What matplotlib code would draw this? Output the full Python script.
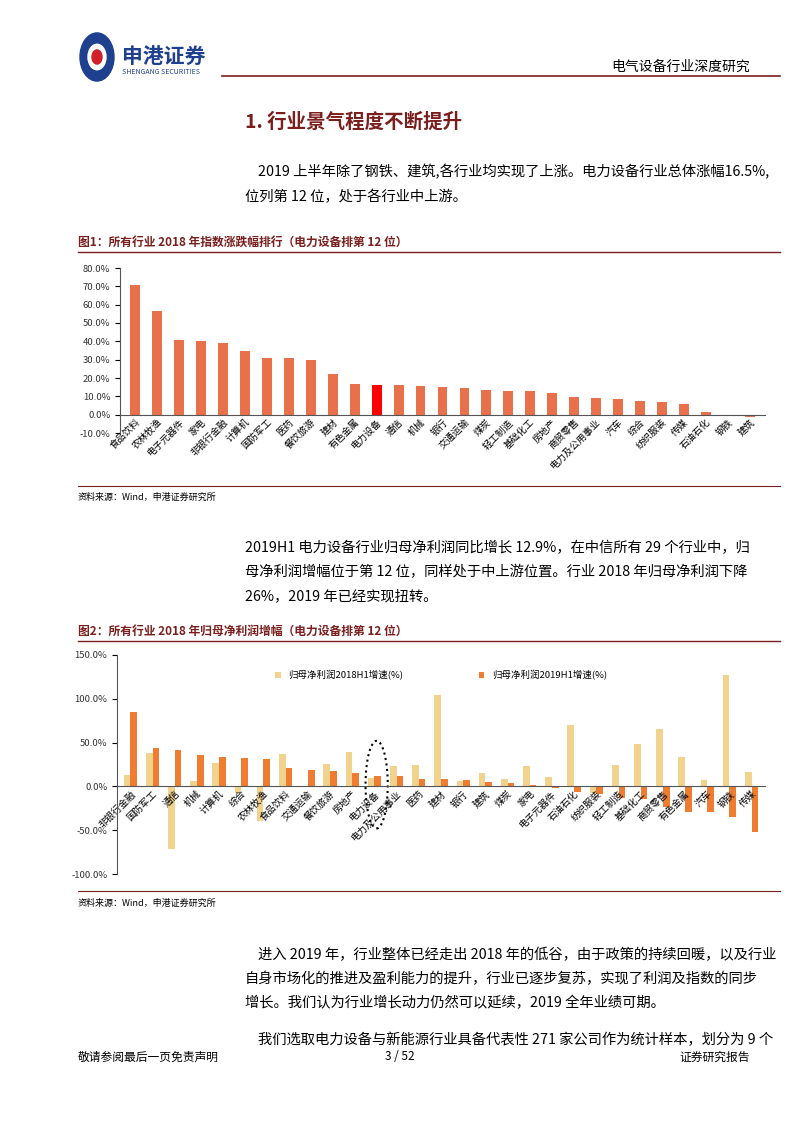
import matplotlib
matplotlib.use("Agg")
import matplotlib.pyplot as plt
from matplotlib.patches import Ellipse, Circle
import numpy as np

plt.rcParams['font.family'] = ['Noto Sans CJK SC', 'DejaVu Sans']

cats1 = ["食品饮料","农林牧渔","电子元器件","家电","非银行金融","计算机","国防军工","医药","餐饮旅游","建材",
         "有色金属","电力设备","通信","机械","银行","交通运输","煤炭","轻工制造","基础化工","房地产",
         "商贸零售","电力及公用事业","汽车","综合","纺织服装","传媒","石油石化","钢铁","建筑"]
vals1 = [70.5,56.5,40.5,40.0,39.0,35.0,31.0,31.0,29.8,22.0,16.5,16.2,16.2,15.8,15.2,14.8,13.5,13.0,12.8,11.7,
         9.6,9.2,8.5,7.4,6.7,6.0,1.7,-0.8,-1.2]
yt1 = [-10,0,10,20,30,40,50,60,70,80]

cats2 = ["非银行金融","国防军工","通信","机械","计算机","综合","农林牧渔","食品饮料","交通运输","餐饮旅游",
         "房地产","电力设备","电力及公用事业","医药","建材","银行","建筑","煤炭","家电","电子元器件",
         "石油石化","纺织服装","轻工制造","基础化工","商贸零售","有色金属","汽车","钢铁","传媒"]
v2018 = [13,38,-72,6,27,-8,-40,37,1,26,39,10,23,25,104,6,15,8,23,11,70,-8,25,48,65,34,7,127,17]
v2019 = [85,44,42,36,33,32,31,21,19,18,15,12,12,9,8,7,5,4,2,-2,-6,-9,-13,-14,-24,-29,-29,-35,-52]
yt2 = [-100,-50,0,50,100,150]

fig = plt.figure(figsize=(8,11.32), dpi=100)
def T(x,y,s,**k): fig.text(x/800,1-y/1132,s,**k)
def HL(x0,x1,y,c,lw):
    fig.add_artist(plt.Line2D([x0/800,x1/800],[1-y/1132]*2,color=c,lw=lw))

# header
fig.add_artist(Circle((97/800,1-57/1132),17/800,transform=fig.transFigure,color='#1f3f8f'))
fig.add_artist(Circle((97/800,1-57/1132),9/800,transform=fig.transFigure,color='white'))
fig.add_artist(Circle((97/800,1-57/1132),5/800,transform=fig.transFigure,color='#d0202a'))
T(122,57,"申港证券",fontsize=15,fontweight='bold',color='#1f3f8f',va='center')
T(122,72,"SHENGANG SECURITIES",fontsize=5,color='#1f3f8f',va='center')
T(750,67,"电气设备行业深度研究",fontsize=10,ha='right',va='center')
HL(222,780,76,'#7a1e1e',1.2)

T(245,122,"1. 行业景气程度不断提升",fontsize=14,fontweight='bold',color='#7a1e1e',va='center')
T(258,172,"2019 上半年除了钢铁、建筑,各行业均实现了上涨。电力设备行业总体涨幅16.5%,",fontsize=10.3,va='center')
T(245,197,"位列第 12 位，处于各行业中上游。",fontsize=10.3,va='center')

T(78,242,"图1：所有行业 2018 年指数涨跌幅排行（电力设备排第 12 位）",fontsize=8.5,fontweight='bold',color='#7a1e1e',va='center')
HL(78,780,252,'#7a1e1e',1)
HL(78,780,486,'#7a1e1e',0.8)
T(78,497,"资料来源：Wind，申港证券研究所",fontsize=6.5,style='italic',va='center')

T(245,548,"2019H1 电力设备行业归母净利润同比增长 12.9%，在中信所有 29 个行业中，归",fontsize=10.3,va='center')
T(245,572,"母净利润增幅位于第 12 位，同样处于中上游位置。行业 2018 年归母净利润下降",fontsize=10.3,va='center')
T(245,596,"26%，2019 年已经实现扭转。",fontsize=10.3,va='center')

T(78,631,"图2：所有行业 2018 年归母净利润增幅（电力设备排第 12 位）",fontsize=8.5,fontweight='bold',color='#7a1e1e',va='center')
HL(78,780,641,'#7a1e1e',1)
HL(78,780,891,'#7a1e1e',0.8)
T(78,903,"资料来源：Wind，申港证券研究所",fontsize=6.5,style='italic',va='center')

T(258,955,"进入 2019 年，行业整体已经走出 2018 年的低谷，由于政策的持续回暖，以及行业",fontsize=10.3,va='center')
T(245,979,"自身市场化的推进及盈利能力的提升，行业已逐步复苏，实现了利润及指数的同步",fontsize=10.3,va='center')
T(245,1003,"增长。我们认为行业增长动力仍然可以延续，2019 全年业绩可期。",fontsize=10.3,va='center')
T(258,1040,"我们选取电力设备与新能源行业具备代表性 271 家公司作为统计样本，划分为 9 个",fontsize=10.3,va='center')
T(78,1057,"敬请参阅最后一页免责声明",fontsize=8.5,va='center')
T(400,1057,"3 / 52",fontsize=8.5,ha='center',va='center')
T(750,1057,"证券研究报告",fontsize=8.5,ha='right',va='center')

# chart 1
ax1 = fig.add_axes([120/800,1-433/1132,645/800,165/1132])
for s in ['top','right']: ax1.spines[s].set_visible(False)
ax1.spines['bottom'].set_position(('data',0)); ax1.spines['bottom'].set_color('#555')
ax1.spines['left'].set_color('#555')
x = np.arange(len(cats1))
cols = ['#e8704a']*len(cats1); cols[cats1.index("电力设备")] = '#ff0000'
ax1.bar(x,vals1,width=0.45,color=cols)
ax1.set_ylim(-10,80); ax1.set_xlim(-0.7,len(cats1)-0.3)
ax1.set_yticks(yt1); ax1.set_yticklabels([f"{v:.1f}%" for v in yt1],fontsize=6.8,color='#333')
ax1.set_xticks(x); ax1.set_xticklabels(cats1,rotation=45,ha='right',rotation_mode='anchor',fontsize=6.8)
ax1.tick_params(axis='x',length=0,pad=2)

# chart 2
ax2 = fig.add_axes([117/800,1-874/1132,648/800,219/1132])
for s in ['top','right']: ax2.spines[s].set_visible(False)
ax2.spines['bottom'].set_position(('data',0)); ax2.spines['bottom'].set_color('#555')
ax2.spines['left'].set_color('#555')
x2 = np.arange(len(cats2)); w=0.3
ax2.bar(x2-w/2,v2018,width=w,color='#f2d38e',label='归母净利润2018H1增速(%)')
ax2.bar(x2+w/2,v2019,width=w,color='#ee7d31',label='归母净利润2019H1增速(%)')
ax2.set_ylim(-100,150); ax2.set_xlim(-0.6,len(cats2)-0.4)
ax2.set_yticks(yt2); ax2.set_yticklabels([f"{v:.1f}%" for v in yt2],fontsize=6.8,color='#333')
ax2.set_xticks(x2); ax2.set_xticklabels(cats2,rotation=45,ha='right',rotation_mode='anchor',fontsize=6.8)
ax2.tick_params(axis='x',length=0,pad=2)
ax2.legend(loc='upper center',bbox_to_anchor=(0.5,0.97),ncol=2,frameon=False,fontsize=6.8,
           handlelength=0.6,handleheight=0.6,columnspacing=8)
i = cats2.index("电力设备")
ax2.add_patch(Ellipse((i+0.1,2),1.0,100,fill=False,ls=':',lw=1.5,color='black'))

fig.savefig("out.png",dpi=100)
